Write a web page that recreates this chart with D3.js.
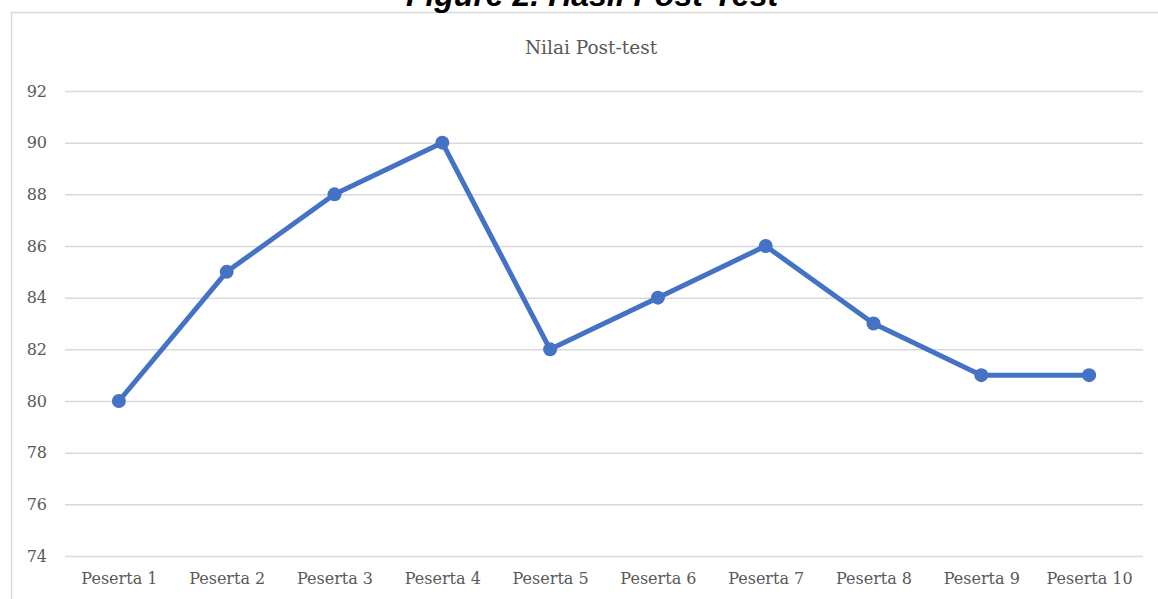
<!DOCTYPE html>
<html>
<head>
<meta charset="utf-8">
<script src="https://cdn.jsdelivr.net/npm/d3@7"></script>
<style>
  body { margin: 0; background: #fff; }
</style>
</head>
<body>
<div id="chart"></div>
<script>
const categories = ["Peserta 1", "Peserta 2", "Peserta 3", "Peserta 4", "Peserta 5",
  "Peserta 6", "Peserta 7", "Peserta 8", "Peserta 9", "Peserta 10"];
const values = [80, 85, 88, 90, 82, 84, 86, 83, 81, 81];
const yTicks = [74, 76, 78, 80, 82, 84, 86, 88, 90, 92];

const w = 1158;
const h = 599;
const plotLeft = 65, plotRight = 1143, plotTop = 91, plotBottom = 556;
const serif = "'DejaVu Serif', 'Liberation Serif', serif";

const svg = d3.select("#chart").append("svg")
  .attr("width", w)
  .attr("height", h)
  .style("display", "block");

// chart area frame
svg.append("rect")
  .attr("x", 11.5).attr("y", 12.5)
  .attr("width", 1160).attr("height", 620)
  .attr("fill", "none")
  .attr("stroke", "#d9d9d9")
  .attr("stroke-width", 1.5);

// figure caption (cut at top)
svg.append("text")
  .attr("x", 592).attr("y", 6)
  .attr("text-anchor", "middle")
  .style("font-family", "'Liberation Sans', Arial, sans-serif")
  .style("font-weight", "bold")
  .style("font-style", "italic")
  .style("font-size", "32px")
  .text("Figure 2. Hasil Post-Test");

svg.append("text")
  .attr("x", 591).attr("y", 54)
  .attr("text-anchor", "middle")
  .style("font-family", serif)
  .style("font-size", "18.5px")
  .attr("fill", "#595959")
  .text("Nilai Post-test");

const x = d3.scalePoint().domain(categories).range([plotLeft, plotRight]).padding(0.5);
const y = d3.scaleLinear().domain([74, 92]).range([plotBottom, plotTop]);

// grid + y labels
const yAxis = d3.axisLeft(y).tickValues(yTicks).tickSize(-(plotRight - plotLeft)).tickPadding(18);
const gy = svg.append("g").attr("transform", `translate(${plotLeft},0)`).call(yAxis);
gy.select(".domain").remove();
gy.selectAll(".tick line").attr("stroke", "#d9d9d9").attr("stroke-width", 1.5);
gy.selectAll(".tick text")
  .attr("fill", "#595959")
  .style("font-family", serif)
  .style("font-size", "16px");

// x labels
const xAxis = d3.axisBottom(x).tickSize(0).tickPadding(17);
const gx = svg.append("g").attr("transform", `translate(0,${plotBottom})`).call(xAxis);
gx.select(".domain").remove();
gx.selectAll(".tick text")
  .attr("fill", "#595959")
  .style("font-family", serif)
  .style("font-size", "16px");

// series
const line = d3.line().x((d, i) => x(categories[i])).y(d => y(d));
svg.append("path")
  .datum(values)
  .attr("d", line)
  .attr("fill", "none")
  .attr("stroke", "#4472C4")
  .attr("stroke-width", 5)
  .attr("stroke-linejoin", "round");

svg.selectAll("circle.pt")
  .data(values)
  .enter()
  .append("circle")
  .attr("class", "pt")
  .attr("cx", (d, i) => x(categories[i]))
  .attr("cy", d => y(d))
  .attr("r", 7)
  .attr("fill", "#4472C4");
</script>
</body>
</html>
